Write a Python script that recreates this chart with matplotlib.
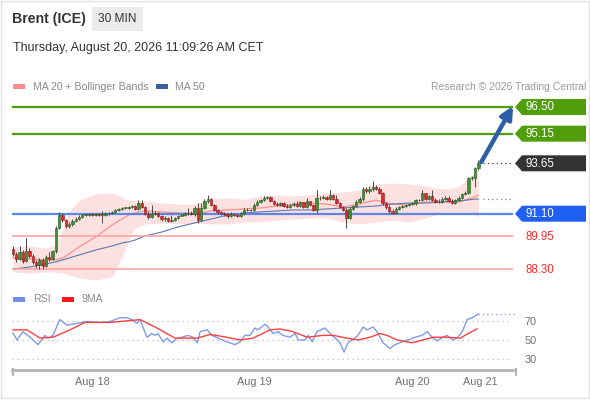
import matplotlib
matplotlib.use("Agg")
import matplotlib.pyplot as plt
from matplotlib.patches import Polygon, Rectangle

plt.rcParams['font.family'] = ['Liberation Sans', 'DejaVu Sans']

W, H = 590, 400

# 30 min candles, index 0 = first visible bar (open of bar i = close of bar i-1)
first_open = 89.31
closes = [89.06, 88.81, 89.16, 88.71, 89.21, 88.96, 88.66, 88.50, 88.76, 88.45,
          88.91, 88.81, 89.21, 90.38, 91.03, 90.78, 90.48, 90.58, 90.73, 90.83,
          90.93, 91.03, 91.04, 91.09, 91.03, 91.09, 91.03, 91.04, 91.14, 91.13,
          91.19, 91.29, 91.34, 91.39, 91.40, 91.44, 91.49, 91.34, 91.64, 91.44,
          91.09, 90.93, 91.09, 91.14, 90.98, 90.83, 90.88, 90.73, 90.78, 90.88,
          90.98, 91.03, 91.14, 91.13, 91.09, 91.39, 90.78, 91.39, 91.74, 91.84,
          91.54, 91.29, 91.19, 91.14, 91.09, 90.98, 91.09, 91.03, 90.98, 91.14,
          91.29, 91.28, 91.29, 91.54, 91.69, 91.79, 91.89, 91.95, 91.74, 91.59,
          91.54, 91.64, 91.49, 91.44, 91.54, 91.59, 91.49, 91.69, 91.44, 91.74,
          91.54, 91.29, 91.89, 91.88, 91.95, 91.84, 92.05, 91.84, 91.64, 91.44,
          91.29, 90.88, 91.34, 91.49, 91.69, 91.84, 92.35, 92.25, 92.35, 92.45,
          92.35, 92.15, 91.64, 91.44, 91.24, 91.14, 91.34, 91.44, 91.49, 91.54,
          91.59, 91.64, 91.79, 91.78, 92.15, 91.84, 92.00, 91.79, 91.69, 91.68,
          91.84, 91.89, 91.74, 91.64, 91.79, 91.89, 92.10, 92.15, 92.91, 92.92,
          93.41, 93.65]
highs = [89.47, 89.16, 89.47, 89.26, 89.87, 89.36, 89.06, 88.76, 88.86, 88.86,
         89.01, 89.16, 89.26, 90.48, 91.19, 91.14, 90.83, 90.68, 90.83, 90.93,
         91.03, 91.09, 91.09, 91.14, 91.14, 91.14, 91.14, 91.24, 91.19, 91.19,
         91.24, 91.34, 91.39, 91.44, 91.44, 91.49, 91.54, 91.54, 91.79, 91.79,
         91.49, 91.24, 91.54, 91.24, 91.19, 91.03, 90.98, 90.93, 91.03, 90.93,
         91.03, 91.09, 91.19, 91.39, 91.24, 91.49, 91.64, 91.64, 91.84, 92.05,
         91.89, 91.59, 91.34, 91.24, 91.19, 91.14, 91.19, 91.14, 91.09, 91.19,
         91.39, 91.39, 91.34, 91.64, 91.79, 91.84, 92.00, 92.00, 92.00, 91.79,
         91.69, 91.69, 91.69, 91.59, 91.59, 91.69, 91.74, 91.74, 91.64, 91.89,
         91.74, 91.59, 92.30, 92.00, 92.05, 92.00, 92.30, 92.10, 92.05, 91.69,
         91.49, 91.39, 91.44, 91.54, 91.79, 91.95, 92.45, 92.45, 92.50, 92.76,
         92.55, 92.45, 92.20, 91.69, 91.54, 91.34, 91.44, 91.49, 91.54, 91.59,
         91.64, 91.69, 91.84, 91.84, 92.30, 92.15, 92.05, 92.30, 91.89, 91.84,
         91.95, 92.00, 92.00, 91.84, 91.84, 92.00, 92.15, 92.25, 92.96, 93.01,
         93.46, 93.82]
lows = [88.96, 88.66, 88.76, 88.61, 88.66, 88.86, 88.56, 88.35, 88.30, 88.30,
        88.40, 88.71, 88.76, 89.11, 90.33, 90.68, 90.38, 90.38, 90.48, 90.68,
        90.78, 90.88, 90.98, 90.98, 90.98, 90.98, 90.98, 90.63, 90.98, 91.03,
        91.09, 91.14, 91.24, 91.29, 91.34, 91.34, 91.39, 91.29, 91.29, 91.39,
        91.03, 90.83, 90.88, 91.03, 90.93, 90.73, 90.73, 90.68, 90.68, 90.73,
        90.83, 90.98, 90.98, 91.03, 91.03, 90.98, 90.63, 90.73, 91.34, 91.64,
        91.49, 91.24, 91.09, 91.03, 90.98, 90.88, 90.93, 90.98, 90.93, 90.93,
        91.03, 91.24, 91.24, 91.24, 91.49, 91.64, 91.74, 91.84, 91.69, 91.54,
        91.49, 91.49, 91.44, 91.39, 91.39, 91.49, 91.44, 91.44, 91.39, 91.39,
        91.49, 91.24, 91.14, 91.79, 91.84, 91.79, 91.79, 91.79, 91.59, 91.39,
        91.24, 90.38, 90.83, 91.29, 91.44, 91.64, 91.74, 92.15, 92.15, 92.25,
        92.30, 92.10, 91.54, 91.34, 91.14, 91.09, 91.09, 91.29, 91.39, 91.44,
        91.49, 91.54, 91.54, 91.74, 91.74, 91.79, 91.79, 91.74, 91.64, 91.64,
        91.64, 91.79, 91.69, 91.59, 91.59, 91.74, 91.84, 92.05, 92.10, 92.81,
        92.45, 93.31]

# indicator values at these bar indices
ind_idx = [0, 5, 10, 13, 15, 17, 20, 25, 30, 33, 35, 37, 40, 45, 50, 55, 60,
           65, 70, 75, 80, 85, 90, 95, 100, 105, 110, 115, 120, 125, 130, 135, 140, 141]
ma20 = [88.86, 88.81, 88.76, 88.76, 88.86, 89.06, 89.42, 89.92, 90.53, 90.83, 91.03,
        91.14, 91.24, 91.19, 91.14, 91.09, 91.24, 91.29, 91.34, 91.39, 91.49, 91.59,
        91.64, 91.59, 91.44, 91.59, 91.79, 91.59, 91.54, 91.69, 91.69, 91.69, 91.95, 92.05]
bb_up = [89.42, 89.47, 89.36, 89.52, 90.28, 91.19, 91.79, 92.10, 92.15, 91.95, 91.79,
         91.74, 91.74, 91.64, 91.59, 91.59, 91.84, 91.90, 91.84, 92.00, 92.05, 92.00,
         92.05, 92.15, 92.20, 92.30, 92.60, 92.65, 92.60, 92.50, 92.35, 92.45, 93.21, 93.41]
bb_lo = [88.15, 88.10, 88.15, 88.15, 88.10, 88.00, 87.85, 87.74, 87.90, 88.86, 89.77,
         90.38, 90.58, 90.63, 90.58, 90.63, 90.58, 90.58, 90.68, 90.68, 90.78, 90.83,
         90.88, 90.88, 90.68, 90.58, 90.68, 90.78, 90.68, 90.88, 91.14, 91.19, 91.03, 90.93]
ma50 = [88.30, 88.40, 88.56, 88.66, 88.76, 88.86, 89.01, 89.26, 89.47, 89.62, 89.67,
        89.77, 89.97, 90.17, 90.43, 90.63, 90.83, 91.03, 91.14, 91.19, 91.24, 91.29,
        91.29, 91.34, 91.39, 91.44, 91.49, 91.59, 91.64, 91.64, 91.69, 91.74, 91.84, 91.84]

rsi_idx = [0, 1.2, 3.0, 5.2, 7.6, 9.7, 10.6, 12.1, 14.2, 16.4, 19.4, 22.4, 26.4, 29.4,
           32.4, 34.5, 36.1, 37.6, 38.5, 40.6, 42.1, 43.0, 43.9, 45.5, 46.7, 48.2, 49.7,
           51.2, 53.0, 54.5, 55.8, 56.7, 58.8, 60.3, 62.1, 64.8, 67.3, 68.8, 70.3, 71.8,
           73.3, 74.2, 76.4, 77.3, 78.8, 80.3, 81.8, 83.9, 85.5, 86.4, 88.5, 89.4, 90.6,
           92.1, 94.5, 96.1, 97.6, 99.1, 100.3, 101.5, 103.6, 104.5, 106.1, 107.3, 109.1,
           110.3, 112.1, 114.2, 115.8, 117.9, 119.7, 121.8, 123.9, 125.5, 127.0, 128.5,
           130.3, 131.5, 133.3, 134.8, 136.1, 137.6, 139.1, 141.0]
rsi = [57.5, 50, 59, 53, 45, 55, 52, 55, 72, 66, 68, 70, 69, 70,
       74, 74, 72, 68, 72, 53, 57, 55, 57, 48, 52, 47, 52,
       53, 55, 53, 47, 59, 61, 55, 52, 48, 45, 48, 55, 55,
       63, 61, 67, 64, 57, 59, 55, 53, 57, 50, 50, 55, 48,
       59, 63, 57, 52, 47, 37, 47, 52, 55, 64, 61, 64,
       59, 47, 41, 45, 48, 50, 53, 55, 59, 53, 49,
       53, 55, 50, 53, 59, 72, 74, 78]
rsi_ma_idx = [0, 4.2, 8.2, 12.1, 17.3, 21.8, 29.4, 38.5, 43.6, 49.1, 55.8, 59.7, 64.8,
              68.8, 72.7, 77.9, 80.9, 84.8, 89.1, 93.9, 97.0, 101.2, 104.5, 108.2, 111.2,
              113.3, 116.4, 120.9, 124.2, 127.3, 131.5, 135.5, 137.9, 140.6]
rsi_ma = [61, 61, 52, 53, 61, 69, 69, 72, 63, 52, 52, 56, 53,
          50, 52, 61, 62, 59, 53, 55, 55, 52, 50, 53, 57,
          55, 50, 47, 50, 53, 53, 52, 57, 62]

levels = [96.50, 95.15, 93.65, 91.10, 89.95, 88.30]
level_kind = ['res', 'res', 'last', 'pivot', 'sup', 'sup']

date_ticks = [24.2, 73.0, 120.9, 141.5]
date_labels = ['Aug 18', 'Aug 19', 'Aug 20', 'Aug 21']
rsi_ticks = [70, 50, 30]

GREEN = '#4f9e0a'
BLUE_LVL = '#5a86ec'
RED_LVL = '#ffa5a5'
GREY_TXT = '#8a8a8a'

X0, X1 = -0.3, 152.1   # bar index range of the plot width


def px(y):
    """figure y (pixels from top) -> figure fraction from bottom"""
    return 1 - y / H


fig = plt.figure(figsize=(W / 100, H / 100), dpi=100)
fig.patch.set_facecolor('white')

# ---------------- price panel ----------------
ax = fig.add_axes([12 / W, px(285), 503 / W, 190 / H])
ax.set_xlim(X0, X1)
ax.set_ylim(87.492, 97.107)
ax.axis('off')

ax.fill_between(ind_idx, bb_lo, bb_up, color='#fde0e0', lw=0, zorder=1)
ax.plot(ind_idx, ma20, color='#ff9090', lw=0.9, zorder=2)
ax.plot(ind_idx, ma50, color='#5a78b4', lw=0.8, zorder=2)

for lvl, kind in zip(levels, level_kind):
    if kind == 'res':
        ax.hlines(lvl, X0, 151.5, color=GREEN, lw=1.6, zorder=2)
    elif kind == 'pivot':
        ax.hlines(lvl, X0, 151.5, color=BLUE_LVL, lw=1.6, zorder=2)
    elif kind == 'sup':
        ax.hlines(lvl, X0, 151.5, color=RED_LVL, lw=1.2, zorder=2)
    else:
        ax.hlines(lvl, 142.3, 151.5, color='#444444', lw=0.9,
                  linestyles=(0, (1, 2.5)), zorder=2)
ax.hlines(ma50[-1], 142.3, 151.5, color='#6a7fb0', lw=0.9,
          linestyles=(0, (1, 2.5)), zorder=2)

opens = [first_open] + closes[:-1]
idx = list(range(len(closes)))
ax.vlines(idx, lows, highs, color='#4a4a4a', lw=0.7, zorder=3)
bottoms = [min(o, c) for o, c in zip(opens, closes)]
heights = [max(abs(c - o), 0.03) for o, c in zip(opens, closes)]
face = ['#3f8f34' if c >= o else '#e3262c' for o, c in zip(opens, closes)]
edge = ['#1f5a1a' if c >= o else '#8c1616' for o, c in zip(opens, closes)]
ax.bar(idx, heights, bottom=bottoms, width=0.72, color=face, edgecolor=edge,
       lw=0.4, zorder=4)

ax.annotate('', xy=(151.5, 96.55), xytext=(141.9, 93.72),
            arrowprops=dict(arrowstyle='-|>', color='#2d5fa6', lw=3.2,
                            mutation_scale=18, shrinkA=0, shrinkB=0),
            annotation_clip=False, zorder=6)

# ---------------- RSI panel ----------------
ax2 = fig.add_axes([12 / W, px(370), 503 / W, 65 / H])
ax2.set_xlim(X0, X1)
ax2.set_ylim(17.6, 87.8)
for s in ['top', 'left', 'right']:
    ax2.spines[s].set_visible(False)
ax2.spines['bottom'].set_color('#b5b5b5')
ax2.spines['bottom'].set_linewidth(2)
ax2.hlines(rsi_ticks, X0, 150.6, color='#bdbdbd', lw=0.9, linestyles=(0, (1, 3)))
ax2.plot(rsi_idx, rsi, color='#7f9be8', lw=1.0)
ax2.plot(rsi_ma_idx, rsi_ma, color='#ff4040', lw=1.0)
ax2.hlines(rsi[-1], rsi_idx[-1], 152.0, color='#7f9be8', lw=0.9,
           linestyles=(0, (1, 2.5)))
ax2.yaxis.tick_right()
ax2.set_yticks(rsi_ticks)
ax2.set_yticklabels([str(t) for t in rsi_ticks])
ax2.set_xticks(date_ticks)
ax2.set_xticklabels(date_labels)
ax2.tick_params(length=0, labelsize=7.8, colors='#707070')
ax2.tick_params(axis='y', pad=7)
ax2.tick_params(axis='x', pad=5)
ax2.patch.set_alpha(0)

# ---------------- overlay (texts, tags, frame) ----------------
ov = fig.add_axes([0, 0, 1, 1], zorder=10)
ov.set_xlim(0, W)
ov.set_ylim(H, 0)
ov.axis('off')
ov.patch.set_alpha(0)

ov.add_patch(Rectangle((0.5, 0.5), W - 2, H - 2.5, fill=False,
                       edgecolor='#e4e4e4', lw=1))
ov.text(12, 19, 'Brent (ICE)', fontsize=10.2, fontweight='bold', color='#333333',
        va='center')
ov.add_patch(Rectangle((92, 7), 51, 24, color='#ebebeb', lw=0))
ov.text(117.5, 19.5, '30 MIN', fontsize=8.6, color='#333333', ha='center', va='center')
ov.text(13, 48.5, 'Thursday, August 20, 2026 11:09:26 AM CET', fontsize=9,
        color='#333333', va='center')

ov.add_patch(Rectangle((13, 84), 12, 5, color='#ff8c8c', lw=0))
ov.text(33, 86.5, 'MA 20 + Bollinger Bands', fontsize=7.6, color=GREY_TXT, va='center')
ov.add_patch(Rectangle((156, 84), 12, 5, color='#3b5e9c', lw=0))
ov.text(175, 86.5, 'MA 50', fontsize=7.6, color=GREY_TXT, va='center')
ov.text(586, 86.5, 'Research \u00a9 2026 Trading Central', fontsize=7.5,
        color='#9a9a9a', va='center', ha='right')

ov.add_patch(Rectangle((13, 297), 12, 5, color='#6f8fe8', lw=0))
ov.text(33, 299.5, 'RSI', fontsize=7.6, color=GREY_TXT, va='center')
ov.add_patch(Rectangle((62, 297), 12, 5, color='#ff1a1a', lw=0))
ov.text(82, 299.5, '9MA', fontsize=7.6, color=GREY_TXT, va='center')

# little end ticks on the time axis
ov.plot([12.5, 12.5], [369, 375], color='#b5b5b5', lw=1.5)
ov.plot([515.5, 515.5], [369, 375], color='#b5b5b5', lw=1.5)

tag_colors = {'res': GREEN, 'last': '#333333', 'pivot': '#1f60f2'}
for lvl, kind in zip(levels, level_kind):
    y = H - ax.transData.transform((0, lvl))[1]
    if kind in tag_colors:
        ov.add_patch(Polygon([(515, y), (522, y - 8), (586, y - 8), (586, y + 8),
                              (522, y + 8)], closed=True, color=tag_colors[kind], lw=0))
        ov.text(525, y + 0.5, f'{lvl:.2f}', fontsize=8.3, color='white', va='center')
    else:
        ov.text(525, y + 0.5, f'{lvl:.2f}', fontsize=8.3, color='#ff2a2a', va='center')

fig.savefig('out.png', dpi=100)
